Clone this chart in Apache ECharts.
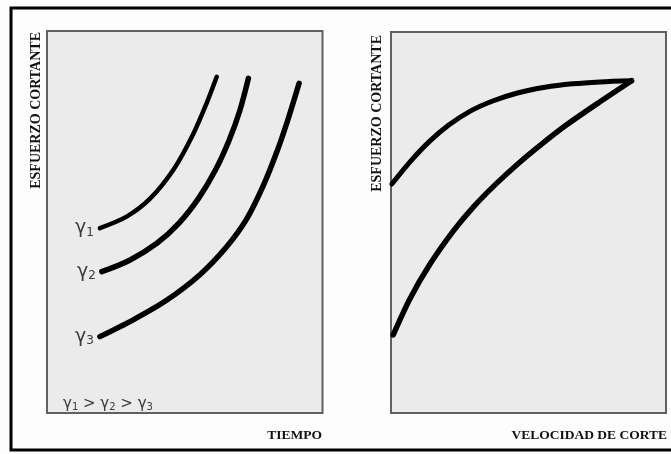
<!DOCTYPE html>
<html>
<head>
<meta charset="utf-8">
<script src="https://cdn.jsdelivr.net/npm/echarts@6/dist/echarts.min.js"></script>
<style>
  html, body { margin: 0; padding: 0; background: #fdfdfd; }
  #chart { width: 671px; height: 454px; }
</style>
</head>
<body>
<div id="chart"></div>
<script>
// Shear stress vs. time for three shear rates (left panel)
const gamma1 = [[19.2, 48.4], [28.9, 51.4], [37.4, 56.1], [46.0, 63.8], [53.0, 72.9], [58.0, 81.2], [61.6, 88.0]];
const gamma2 = [[19.9, 37.0], [30.0, 40.0], [40.0, 44.5], [48.0, 49.8], [55.0, 56.2], [61.0, 63.4], [66.0, 71.2], [70.0, 79.2], [73.1, 87.6]];
const gamma3 = [[19.2, 20.0], [31.3, 24.4], [43.4, 29.5], [55.5, 36.2], [65.2, 43.5], [72.5, 50.8], [78.5, 59.5], [83.5, 68.5], [87.5, 76.9], [91.5, 86.3]];
const gammaNames = ['1', '2', '3'];

// Shear stress vs. shear rate: rising and falling branches (right panel)
const loopUp = [[0.8, 20.5], [6.9, 30.0], [14.2, 39.1], [22.7, 47.8], [30.0, 54.1], [38.0, 60.0], [46.0, 65.3], [55.0, 70.7], [64.0, 75.7], [75.0, 81.2], [87.5, 87.2]];
const loopDown = [[0.3, 60.1], [7.0, 66.0], [14.0, 71.3], [21.0, 75.6], [29.0, 79.3], [37.0, 81.9], [46.0, 84.0], [56.0, 85.5], [66.0, 86.4], [76.0, 86.9], [87.5, 87.2]];

const yTitle = 'ESFUERZO CORTANTE';
const xTitleLeft = 'TIEMPO';
const xTitleRight = 'VELOCIDAD DE CORTE';

const chart = echarts.init(document.getElementById('chart'), null, { renderer: 'canvas' });

const panelStyle = {
  show: true,
  backgroundColor: '#ebebeb',
  borderColor: '#606060',
  borderWidth: 2
};

function hiddenAxis(idx) {
  return {
    type: 'value', gridIndex: idx, min: 0, max: 100,
    axisLine: { show: false }, axisTick: { show: false },
    axisLabel: { show: false }, splitLine: { show: false }
  };
}

const gammaRich = {
  g: { fontFamily: 'DejaVu Sans', fontSize: 19, color: '#3a3a3a' },
  s: { fontFamily: 'DejaVu Sans', fontSize: 12, color: '#3a3a3a', verticalAlign: 'bottom', padding: [9, 0, 0, 0] }
};

function curve(data, grid, width, tag) {
  const s = {
    type: 'line',
    xAxisIndex: grid, yAxisIndex: grid,
    data: data,
    smooth: 0.3,
    showSymbol: false,
    symbol: 'none',
    silent: true,
    lineStyle: { color: '#000', width: width, cap: 'round', join: 'round' }
  };
  if (tag) {
    s.markPoint = {
      symbol: 'circle', symbolSize: 0,
      data: [{
        coord: data[0],
        label: {
          show: true, position: 'left', distance: 6,
          formatter: '{g|γ}{s|' + tag + '}', rich: gammaRich
        }
      }]
    };
  }
  return s;
}

const titleFont = { fontFamily: 'Liberation Serif', fontWeight: 'bold', fill: '#111' };

chart.setOption({
  animation: false,
  backgroundColor: '#fdfdfd',
  grid: [
    Object.assign({ left: 47, top: 31, right: 348.5, bottom: 41 }, panelStyle),
    Object.assign({ left: 391, top: 32, right: 5, bottom: 41 }, panelStyle)
  ],
  xAxis: [hiddenAxis(0), hiddenAxis(1)],
  yAxis: [hiddenAxis(0), hiddenAxis(1)],
  series: [
    curve(gamma1, 0, 4.5, gammaNames[0]),
    curve(gamma2, 0, 5.5, gammaNames[1]),
    curve(gamma3, 0, 5.5, gammaNames[2]),
    curve(loopUp, 1, 5.5),
    curve(loopDown, 1, 5)
  ],
  graphic: [
    // outer frame
    { type: 'rect', shape: { x: 11, y: 8, width: 690, height: 442 },
      style: { fill: 'none', stroke: '#000', lineWidth: 3 }, z: 10 },
    // vertical titles
    { type: 'text', x: 36, y: 32, rotation: Math.PI / 2,
      style: Object.assign({ text: yTitle, align: 'right', verticalAlign: 'middle', fontSize: 14 }, titleFont) },
    { type: 'text', x: 377, y: 35, rotation: Math.PI / 2,
      style: Object.assign({ text: yTitle, align: 'right', verticalAlign: 'middle', fontSize: 14 }, titleFont) },
    // horizontal titles
    { type: 'text', x: 322, y: 436,
      style: Object.assign({ text: xTitleLeft, align: 'right', verticalAlign: 'middle', fontSize: 13.5 }, titleFont) },
    { type: 'text', x: 667, y: 436,
      style: Object.assign({ text: xTitleRight, align: 'right', verticalAlign: 'middle', fontSize: 13.5 }, titleFont) },
    // ordering of shear rates
    { type: 'text', x: 63, y: 412,
      style: {
        text: '{g|γ}{s|1}{g| > γ}{s|2}{g| > γ}{s|3}',
        verticalAlign: 'bottom',
        rich: {
          g: { fontFamily: 'DejaVu Sans', fontSize: 15, fill: '#3a3a3a' },
          s: { fontFamily: 'DejaVu Sans', fontSize: 10, fill: '#3a3a3a', verticalAlign: 'bottom', padding: [6, 0, 0, 0] }
        }
      }
    }
  ]
});
</script>
</body>
</html>
